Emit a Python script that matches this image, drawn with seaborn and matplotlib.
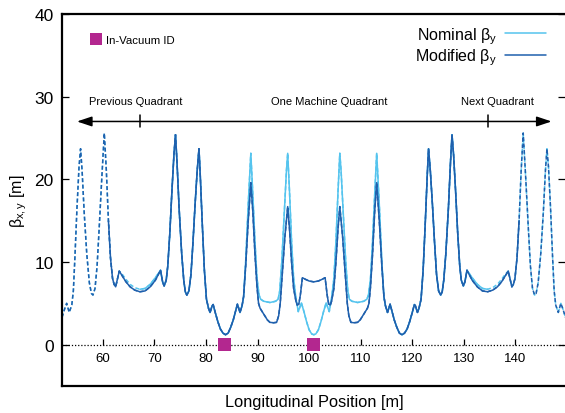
import numpy as np
import pandas as pd
import matplotlib
matplotlib.use("Agg")
import matplotlib.pyplot as plt
from matplotlib.lines import Line2D
import seaborn as sns

# ---------------- data ----------------
pos_mod = [52.1, 52.6, 53.0, 53.5, 54.0, 54.3, 54.6, 55.0, 55.4, 55.7, 56.0, 56.4, 56.9, 57.4, 57.8, 58.1,
           58.5, 58.9, 59.3, 59.8, 60.3, 60.7, 61.1, 61.5, 61.9, 62.2, 62.5, 62.8, 63.2, 63.8, 64.5, 65.3,
           66.2, 67.2, 68.2, 69.2, 70.2, 71.2, 71.6, 71.9, 72.3, 72.6, 73.0, 73.4, 73.8, 74.1, 74.4, 74.8,
           75.3, 75.7, 76.0, 76.3, 76.7, 77.1, 77.5, 77.9, 78.3, 78.65, 78.9, 79.3, 79.7, 80.1, 80.5, 80.8,
           81.2, 81.4, 81.8, 82.3, 82.8, 83.3, 83.8, 84.3, 84.8, 85.3, 85.8, 86.1, 86.6, 87.0, 87.3, 87.7,
           88.2, 88.7, 89.1, 89.5, 89.9, 90.2, 90.5, 90.9, 91.4, 91.9, 92.4, 93.1, 93.7, 94.1, 94.4, 94.8,
           95.3, 95.85, 96.2, 96.6, 97.0, 97.45, 97.7, 98.0, 98.3, 98.7, 99.3, 100.0, 100.9,
           101.8, 102.5, 103.1, 103.5, 103.8, 104.1, 104.35, 104.8, 105.2, 105.6, 105.95, 106.5, 107.0,
           107.4, 107.7, 108.1, 108.7, 109.4, 109.9, 110.4, 110.9, 111.3, 111.6, 111.9, 112.3, 112.7,
           113.1, 113.6, 114.1, 114.5, 114.8, 115.2, 115.7, 116.0, 116.5, 117.0, 117.5, 118.0, 118.5,
           119.0, 119.5, 120.0, 120.4, 120.6, 121.0, 121.3, 121.7, 122.1, 122.5, 122.9, 123.15, 123.5,
           123.9, 124.3, 124.7, 125.1, 125.5, 125.8, 126.1, 126.5, 127.0, 127.4, 127.7, 128.0, 128.4,
           128.8, 129.2, 129.5, 129.9, 130.2, 130.6, 131.6, 132.6, 133.6, 134.6, 135.6, 136.5, 137.3,
           138.0, 138.6, 139.0, 139.3, 139.6, 139.9, 140.3, 140.7, 141.1, 141.5, 142.0, 142.5, 142.9,
           143.3, 143.7, 144.0, 144.4, 144.9, 145.4, 145.8, 146.1, 146.4, 146.8, 147.2, 147.5, 147.8,
           148.3, 148.8, 149.2, 149.7]
beta_mod = [3.3, 4.3, 5.0, 3.9, 4.8, 6.5, 10.5, 16.5, 21.5, 23.7, 21.0, 16.0, 11.0, 7.5, 6.2, 6.0,
            6.8, 9.5, 14.0, 20.0, 25.6, 21.0, 15.0, 10.5, 8.0, 7.3, 7.0, 7.8, 8.9, 8.3, 7.6, 7.0,
            6.6, 6.4, 6.5, 7.0, 7.8, 9.0, 7.6, 7.1, 7.8, 9.5, 13.5, 18.5, 23.0, 25.4, 22.0, 16.5,
            11.0, 7.8, 6.4, 6.0, 6.5, 8.5, 12.5, 17.0, 21.0, 23.7, 20.5, 14.5, 9.0, 5.5, 4.4, 3.9,
            4.7, 4.85, 3.9, 2.8, 1.9, 1.4, 1.2, 1.4, 2.1, 3.0, 4.2, 4.9, 3.9, 4.7, 5.8, 9.5,
            15.0, 19.6, 16.0, 11.0, 7.0, 5.0, 4.4, 4.0, 3.5, 3.0, 2.7, 2.65, 2.7, 3.5, 5.0, 8.5,
            13.0, 16.7, 14.0, 10.0, 6.8, 5.25, 4.8, 4.9, 6.0, 8.1, 7.9, 7.7, 7.6,
            7.7, 7.9, 8.1, 6.0, 4.9, 4.8, 5.25, 6.8, 10.0, 14.0, 16.7, 13.0, 8.5,
            5.0, 3.5, 2.7, 2.65, 2.7, 3.0, 3.5, 4.0, 4.4, 5.0, 7.0, 11.0, 16.0,
            19.6, 15.0, 9.5, 5.8, 4.7, 3.9, 4.9, 4.2, 3.0, 2.1, 1.4, 1.2, 1.4,
            1.9, 2.8, 3.9, 4.85, 4.7, 3.9, 4.4, 5.5, 9.0, 14.5, 20.5, 23.7, 21.0,
            17.0, 12.5, 8.5, 6.5, 6.0, 6.4, 7.8, 11.0, 16.5, 22.0, 25.4, 23.0, 18.5,
            13.5, 9.5, 7.8, 7.1, 7.6, 9.0, 7.8, 7.0, 6.5, 6.4, 6.6, 7.0, 7.6,
            8.3, 8.9, 7.8, 7.0, 7.3, 8.0, 10.5, 15.0, 21.0, 25.6, 20.0, 14.0, 9.5,
            6.8, 6.0, 6.2, 7.5, 11.0, 16.0, 21.0, 23.7, 21.5, 16.5, 10.5, 6.5, 4.8,
            3.9, 5.0, 4.3, 3.3]

pos_nom = [52.1, 52.6, 53.0, 53.5, 54.0, 54.3, 54.6, 55.0, 55.4, 55.7, 56.0, 56.4, 56.9, 57.4, 57.8, 58.1,
           58.5, 58.9, 59.3, 59.8, 60.3, 60.7, 61.1, 61.5, 61.9, 62.2, 62.5, 62.8, 63.2, 63.8, 64.5, 65.3,
           66.2, 67.2, 68.2, 69.2, 70.2, 71.2, 71.6, 71.9, 72.3, 72.6, 73.0, 73.4, 73.8, 74.1, 74.4, 74.8,
           75.3, 75.7, 76.0, 76.3, 76.7, 77.1, 77.5, 77.9, 78.3, 78.65, 78.9, 79.3, 79.7, 80.1, 80.5, 80.8,
           81.2, 81.4, 81.8, 82.3, 82.8, 83.3, 83.8, 84.3, 84.8, 85.3, 85.8, 86.1, 86.6, 87.0, 87.3, 87.7,
           88.2, 88.7, 89.1, 89.5, 89.9, 90.3, 90.6, 91.2, 92.4, 93.5, 94.0, 94.3, 94.7, 95.2, 95.6, 95.85,
           96.2, 96.6, 97.0, 97.45, 97.9, 98.5, 99.0, 99.5, 100.0, 100.5, 100.9,
           101.3, 101.8, 102.3, 102.8, 103.3, 103.9, 104.35, 104.8, 105.2, 105.6, 105.95, 106.2, 106.6,
           107.1, 107.5, 107.8, 108.3, 109.4, 110.6, 111.2, 111.5, 111.9, 112.3, 112.7, 113.1, 113.6,
           114.1, 114.5, 114.8, 115.2, 115.7, 116.0, 116.5, 117.0, 117.5, 118.0, 118.5,
           119.0, 119.5, 120.0, 120.4, 120.6, 121.0, 121.3, 121.7, 122.1, 122.5, 122.9, 123.15, 123.5,
           123.9, 124.3, 124.7, 125.1, 125.5, 125.8, 126.1, 126.5, 127.0, 127.4, 127.7, 128.0, 128.4,
           128.8, 129.2, 129.5, 129.9, 130.2, 130.6, 131.6, 132.6, 133.6, 134.6, 135.6, 136.5, 137.3,
           138.0, 138.6, 139.0, 139.3, 139.6, 139.9, 140.3, 140.7, 141.1, 141.5, 142.0, 142.5, 142.9,
           143.3, 143.7, 144.0, 144.4, 144.9, 145.4, 145.8, 146.1, 146.4, 146.8, 147.2, 147.5, 147.8,
           148.3, 148.8, 149.2, 149.7]
beta_nom = [3.3, 4.3, 5.0, 3.9, 4.8, 6.5, 10.5, 16.5, 21.5, 23.7, 21.0, 16.0, 11.0, 7.5, 6.2, 6.0,
            6.8, 9.5, 14.0, 20.0, 25.6, 21.0, 15.0, 10.5, 8.0, 7.3, 7.0, 7.8, 8.9, 8.5, 7.9, 7.3,
            6.9, 6.7, 6.8, 7.3, 8.1, 9.0, 7.6, 7.1, 7.8, 9.5, 13.5, 18.5, 23.0, 25.4, 22.0, 16.5,
            11.0, 7.8, 6.4, 6.0, 6.5, 8.5, 12.5, 17.0, 21.0, 23.7, 20.5, 14.5, 9.0, 5.5, 4.4, 3.9,
            4.7, 4.85, 3.9, 2.8, 1.9, 1.4, 1.2, 1.4, 2.1, 3.0, 4.2, 4.9, 3.9, 4.7, 5.8, 10.0,
            17.0, 23.15, 18.0, 12.5, 8.0, 6.0, 5.5, 5.25, 5.1, 5.25, 5.5, 6.5, 10.0, 16.0, 21.0, 23.15,
            18.5, 12.5, 8.0, 5.6, 4.0, 5.05, 4.0, 2.8, 1.8, 1.3, 1.2,
            1.3, 1.8, 2.8, 4.0, 5.05, 4.0, 5.6, 8.0, 12.5, 18.5, 23.15, 21.0, 16.0,
            10.0, 6.5, 5.5, 5.25, 5.1, 5.25, 5.5, 6.0, 8.0, 12.5, 18.0, 23.15, 17.0,
            10.0, 5.8, 4.7, 3.9, 4.9, 4.2, 3.0, 2.1, 1.4, 1.2, 1.4,
            1.9, 2.8, 3.9, 4.85, 4.7, 3.9, 4.4, 5.5, 9.0, 14.5, 20.5, 23.7, 21.0,
            17.0, 12.5, 8.5, 6.5, 6.0, 6.4, 7.8, 11.0, 16.5, 22.0, 25.4, 23.0, 18.5,
            13.5, 9.5, 7.8, 7.1, 7.6, 9.0, 8.1, 7.3, 6.8, 6.7, 6.9, 7.3, 7.9,
            8.5, 8.9, 7.8, 7.0, 7.3, 8.0, 10.5, 15.0, 21.0, 25.6, 20.0, 14.0, 9.5,
            6.8, 6.0, 6.2, 7.5, 11.0, 16.0, 21.0, 23.7, 21.5, 16.5, 10.5, 6.5, 4.8,
            3.9, 5.0, 4.3, 3.3]

id_positions = [83.6, 100.9]
id_beta = [0.0, 0.0]

quadrant_bounds = [67.2, 134.6]       # solid range of the nominal curve
modified_bounds = [60.8, 141.0]       # solid range of the modified curve
region_labels = ["Previous Quadrant", "One Machine Quadrant", "Next Quadrant"]
region_label_x = [66.3, 103.8, 136.5]

x_ticks = [60, 70, 80, 90, 100, 110, 120, 130, 140]
y_ticks = [0, 10, 20, 30, 40]

# ---------------- style ----------------
sns.set_style("ticks")
plt.rcParams["font.family"] = ["Liberation Sans", "DejaVu Sans"]
plt.rcParams["mathtext.fontset"] = "custom"
plt.rcParams["mathtext.rm"] = "Liberation Sans"
plt.rcParams["mathtext.it"] = "Liberation Sans:italic"
for k in ["text.color", "axes.labelcolor", "xtick.color", "ytick.color", "axes.edgecolor"]:
    plt.rcParams[k] = "black"

c_nom = "#55c4ee"
c_mod = "#1f60ad"
c_id = "#b3278f"

fig = plt.figure(figsize=(5.65, 4.14), dpi=100)
ax = fig.add_axes([62 / 565, 27 / 414, 1 - 62 / 565, (387 - 15) / 414])

df_nom = pd.DataFrame({"pos": pos_nom, "beta": beta_nom})
df_mod = pd.DataFrame({"pos": pos_mod, "beta": beta_mod})

dash = (0, (2.6, 1.6))
# dashed over whole range, solid inside the quadrant
sns.lineplot(data=df_nom, x="pos", y="beta", ax=ax, color=c_nom, lw=1.1,
             linestyle=dash, sort=False, estimator=None)
sns.lineplot(data=df_nom[(df_nom.pos >= quadrant_bounds[0]) & (df_nom.pos <= quadrant_bounds[1])],
             x="pos", y="beta", ax=ax, color=c_nom, lw=1.1, sort=False, estimator=None)
sns.lineplot(data=df_mod, x="pos", y="beta", ax=ax, color=c_mod, lw=1.1,
             linestyle=dash, sort=False, estimator=None)
sns.lineplot(data=df_mod[(df_mod.pos >= modified_bounds[0]) & (df_mod.pos <= modified_bounds[1])],
             x="pos", y="beta", ax=ax, color=c_mod, lw=1.1, sort=False, estimator=None)

# zero axis
ax.axhline(0, color="black", lw=0.9, ls=(0, (1, 1.5)), zorder=1)

# in-vacuum ID markers
sns.scatterplot(x=id_positions, y=id_beta, ax=ax, marker="s", s=85, color=c_id,
                edgecolor="none", zorder=5, linewidth=0)

ax.set_xlim(52.1, 149.6)
ax.set_ylim(-5, 40)

# quadrant arrow
ax.annotate("", xy=(147.0, 27.0), xytext=(55.0, 27.0),
            arrowprops=dict(arrowstyle="<|-|>,head_length=0.9,head_width=0.3", lw=1.1,
                            color="black", shrinkA=0, shrinkB=0))
for b in quadrant_bounds:
    ax.plot([b, b], [26.3, 27.8], color="black", lw=1.1)
for lbl, xl in zip(region_labels, region_label_x):
    ax.text(xl, 29.5, lbl, ha="center", va="center", fontsize=8)

# axes styling
ax.set_xticks([])
ax.set_yticks(y_ticks)
ax.tick_params(axis="y", direction="in", length=5, width=0.9, labelsize=12.5,
               left=True, right=True, pad=6)
for s in ["left", "top", "bottom"]:
    ax.spines[s].set_visible(True)
    ax.spines[s].set_linewidth(1.6)
    ax.spines[s].set_color("black")
ax.spines["right"].set_visible(False)

loc0 = (0 - (-5)) / 45
sec = ax.secondary_xaxis(loc0)
sec.set_xticks(x_ticks)
sec.tick_params(axis="x", direction="in", length=4, width=0.9, labelsize=9.5, pad=5)
sec.spines["bottom"].set_visible(False)

ax.set_xlabel("Longitudinal Position [m]", fontsize=11.8)
ax.set_ylabel(r"β$_{\mathregular{x,y}}$ [m]", fontsize=11.5, labelpad=4)
ax.xaxis.set_label_coords(0.502, -0.022)

# legends
h_nom = Line2D([], [], color=c_nom, lw=1.1)
h_mod = Line2D([], [], color=c_mod, lw=1.1)
leg1 = ax.legend([h_nom, h_mod], [r"Nominal β$_{\mathregular{y}}$", r"Modified β$_{\mathregular{y}}$"],
                 loc="upper right", bbox_to_anchor=(0.985, 1.0), frameon=False, markerfirst=False,
                 fontsize=11.5, handlelength=2.6, handletextpad=0.5, labelspacing=0.05,
                 borderaxespad=0.3)
ax.add_artist(leg1)
h_id = Line2D([], [], color=c_id, marker="s", ls="none", markersize=9, markeredgewidth=0)
leg2 = ax.legend([h_id], ["In-Vacuum ID"], loc="upper left", bbox_to_anchor=(0.035, 0.97),
                 frameon=False, fontsize=8.2, handletextpad=0.4, handlelength=1.0)

fig.savefig("out.png", dpi=100)
